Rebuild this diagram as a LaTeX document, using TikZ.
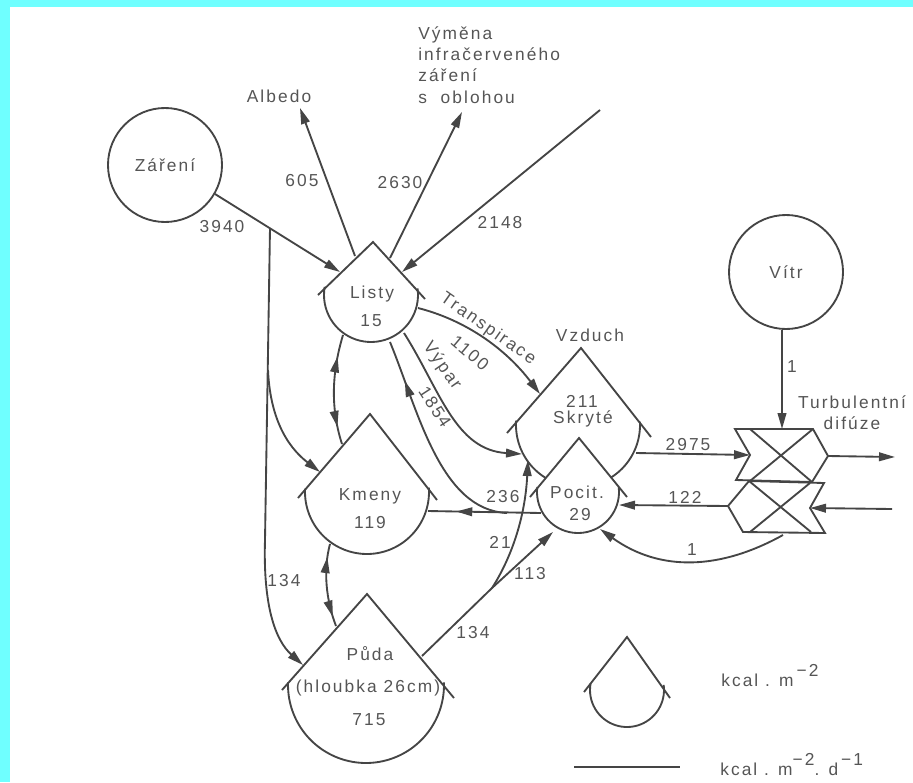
\documentclass[tikz,border=0pt]{standalone}
\usepackage{fontspec}
\setmainfont[LetterSpace=12]{Liberation Sans}
\usetikzlibrary{arrows.meta,decorations.markings}
\definecolor{ink}{HTML}{454545}
\definecolor{txt}{HTML}{555555}
\definecolor{frame}{HTML}{6FFFFF}
\tikzset{
  line/.style={draw=ink,line width=1.4pt},
  flow/.style={line,-{Stealth[inset=0pt,length=12pt,width=6.5pt]}},
  aat/.style={postaction={decorate,decoration={markings,mark=at position #1 with {\arrow{Stealth[inset=0pt,length=12pt,width=6.5pt]}}}}},
  arev/.style={postaction={decorate,decoration={markings,mark=at position #1 with {\arrowreversed{Stealth[inset=0pt,length=12pt,width=6.5pt]}}}}},
  lbl/.style={text=txt,font=\fontsize{13}{16}\selectfont,inner sep=0pt,align=center},
  src/.style={circle,draw=ink,line width=1.4pt,inner sep=0pt,text=txt,font=\fontsize{13}{16}\selectfont}
}
\newcommand{\tank}[4]{%
  \coordinate (#1-a) at (#2);\coordinate (#1-l) at (#3);\coordinate (#1-r) at (#4);
  \draw[line,line join=miter] (#1-l) -- (#1-a) -- (#1-r);}
\newcommand{\tankarc}[5]{%
  \draw[line] plot[smooth,domain=#4:#5,samples=40,variable=\t] ({#1+#3*cos(\t)},{#2+#3*sin(\t)});}
\begin{document}
\begin{tikzpicture}[x=0.75pt,y=-0.75pt]
\useasboundingbox (0,0) rectangle (913,782);
\fill[frame] (0,0) rectangle (913,7);
\fill[frame] (0,0) rectangle (10,782);

% sources
\node[src,minimum size=85.5pt] (zareni) at (165,165) {Záření};
\node[src,minimum size=85.5pt] (vitr) at (786,272) {Vítr};

% stores
\tank{listy}{373,242}{318,295}{425,299}
\tankarc{371}{295}{47}{-8}{190}
\tank{kmeny}{370,414}{298,498}{437,500}
\tankarc{367}{492}{62}{-4}{183}
\tank{puda}{367,594}{282,690}{454,698}
\tankarc{366}{685}{78}{-2}{182}
\tank{vzd}{581,348}{507,433}{651,437}
\tankarc{578}{425}{62}{122}{184}
\tankarc{578}{425}{62}{-3}{58}
\tank{poc}{579,438}{530,497}{627,497}
\tankarc{578}{492}{41}{-7}{187}
\tank{leg}{627,637}{584,692}{670,698}
\tankarc{627}{690}{37}{-8}{190}

% diffusion blocks
\coordinate (u1) at (735,429);\coordinate (u2) at (813,429);\coordinate (uR) at (828,456);
\coordinate (u3) at (812,482);\coordinate (u4) at (736,480);\coordinate (uN) at (750,455);
\draw[line,line join=miter] (u1) -- (u2) -- (uR) -- (u3) -- (u4) -- (uN) -- cycle;
\draw[line] (750,429) -- (u3) (u2) -- (750,481);
\coordinate (d1) at (749,481);\coordinate (d2) at (824,483);\coordinate (dN) at (810,508);
\coordinate (d3) at (825,533);\coordinate (d4) at (743,532);\coordinate (dL) at (728,506);
\draw[line,line join=miter] (d1) -- (d2) -- (dN) -- (d3) -- (d4) -- (dL) -- cycle;
\draw[line] (d1) -- (811,532) (810,483) -- (750,532);

% end points
\coordinate (albedoEnd) at (300,108);
\coordinate (infraEnd) at (462,112);
\coordinate (skyStart) at (600,110);
\coordinate (j0) at (270,228);
\coordinate (j1) at (492,588);
\coordinate (outEnd) at (895,457);
\coordinate (inStart) at (892,509);

% connectors
\draw[flow] (zareni) ++(50,29) coordinate (zs) -- (340,272) coordinate (ls1);
\draw[flow] (355,256) coordinate (ls2) -- (albedoEnd);
\draw[flow] (390,258) coordinate (ls3) -- (infraEnd);
\draw[flow] (skyStart) -- (402,272) coordinate (ls4);
\draw[line] (j0) -- (265,540);
\draw[flow] (268,370) .. controls (270,415) and (285,445) .. (320,472) coordinate (km1);
\draw[flow] (265,540) .. controls (263,605) and (275,640) .. (303,665) coordinate (pu1);
\draw[line,arev=.2,aat=.84] (343,335) .. controls (331,375) and (331,410) .. (342,444);
\draw[line,arev=.16,aat=.88] (330,544) .. controls (323,570) and (326,600) .. (336,626);
\draw[flow] (418,308) .. controls (465,320) and (505,348) .. (540,394) coordinate (vz1);
\draw[flow] (404,333) .. controls (440,390) and (455,450) .. (522,454) coordinate (vz2);
\draw[line,arev=.19] (390,342) .. controls (418,410) and (440,510) .. (507,513);
\draw[line,aat=.75] (541,513) -- (428,511);
\draw[flow] (j1) .. controls (510,560) and (525,520) .. (528,460);
\draw[flow] (422,656) -- (j1) -- (553,532);
\draw[flow] (636,453) -- (uN);
\draw[flow] (dL) -- (619,505);
\draw[flow] (783,535) .. controls (720,570) and (660,572) .. (600,529);
\draw[flow] (vitr.south -| 782,329) -- (782,429);
\draw[flow] (uR) -- (outEnd);
\draw[flow] (inStart) -- (dN);
\coordinate (legA) at (574,767);\coordinate (legB) at (680,767);
\draw[line] (legA) -- (legB);

% labels
\node[lbl] (tAlb) at (279,96) {Albedo};
\node[lbl,align=left,anchor=north west] (tInfra) at (418,26) {Výměna\\infračerveného\\záření\\s\ \ oblohou};
\node[lbl] (t3940) at (222,227) {3940};
\node[lbl] (t605) at (302,181) {605};
\node[lbl] (t2630) at (400,183) {2630};
\node[lbl] (t2148) at (500,223) {2148};
\node[lbl] (tListy) at (372,294) {Listy};
\node[lbl] (t15) at (371,321) {15};
\node[lbl,rotate=-35] (tTr) at (488,329) {Transpirace};
\node[lbl,rotate=-40] (t1100) at (470,353) {1100};
\node[lbl,rotate=-55] (tVy) at (442,366) {Výpar};
\node[lbl,rotate=-57] (t1854) at (435,407) {1854};
\node[lbl] (tVz) at (590,335) {Vzduch};
\node[lbl] (t211) at (582,401) {211};
\node[lbl] (tSk) at (583,419) {Skryté};
\node[lbl] (tPoc) at (577,492) {Pocit.};
\node[lbl] (t29) at (580,515) {29};
\node[lbl] (tKm) at (370,496) {Kmeny};
\node[lbl] (t119) at (370,523) {119};
\node[lbl] (t236) at (503,497) {236};
\node[lbl] (t21) at (500,542) {21};
\node[lbl] (t113) at (530,574) {113};
\node[lbl] (t134a) at (284,581) {134};
\node[lbl] (t134b) at (473,633) {134};
\node[lbl] (tPu) at (370,654) {Půda};
\node[lbl] (tHl) at (368,688) {(hloubka 26cm)};
\node[lbl] (t715) at (369,720) {715};
\node[lbl] (t2975) at (688,445) {2975};
\node[lbl] (t122) at (685,497) {122};
\node[lbl] (t1a) at (692,550) {1};
\node[lbl] (t1b) at (792,367) {1};
\node[lbl] (tTu) at (852,413) {Turbulentní\\difúze};
\node[lbl,anchor=base west] (tK1) at (721,686) {kcal . m\,\raisebox{.55em}{−2}};
\node[lbl,anchor=base west] (tK2) at (720,775) {kcal . m\raisebox{.55em}{−2}. d\raisebox{.55em}{\,−1}};
\end{tikzpicture}
\end{document}
